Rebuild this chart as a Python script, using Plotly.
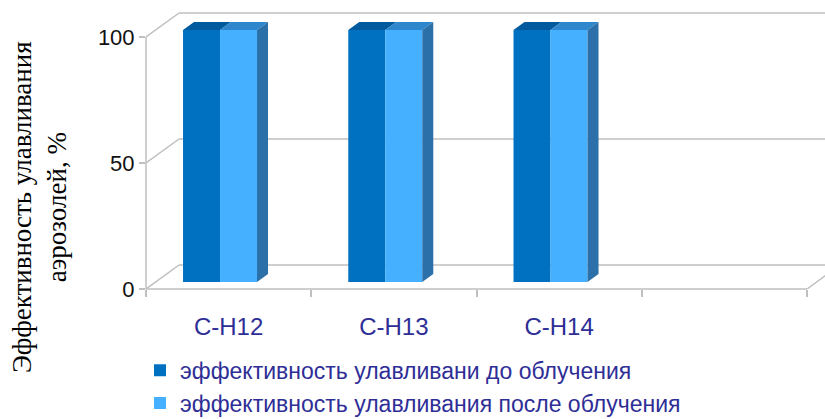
import plotly.graph_objects as go

# --- data ---------------------------------------------------------------
categories = ["C-H12", "C-H13", "C-H14"]
before_irradiation = [100, 100, 100]
after_irradiation = [100, 100, 100]
y_ticks = [0, 50, 100]
series_names = [
    "эффективность улавливани до облучения",
    "эффективность улавливания после облучения",
]

# --- geometry of the pseudo-3D box (pixels) ------------------------------
W, H = 825, 419
M_L, M_R, M_T, M_B = 146, 0, 6, 130
CAT_PX = 165.25          # width of one category slot on the front plane
UNIT_PX = 2.52           # pixels per percent on the front plane
N_SLOTS = 4              # three filled categories + one empty slot

plot_w = W - M_L - M_R
plot_h = H - M_T - M_B
x_max = plot_w / CAT_PX
y_max = plot_h / UNIT_PX

# depth offsets (pixels): back wall, bar front face, bar thickness
WALL_DX, WALL_DY = 33, 24
BAR_DX, BAR_DY = -8.6, 7
FACE_DX, FACE_DY = 11, 8

wdx, wdy = WALL_DX / CAT_PX, WALL_DY / UNIT_PX
fdx, fdy = FACE_DX / CAT_PX, FACE_DY / UNIT_PX
x2_min = -BAR_DX / CAT_PX
y2_min = -BAR_DY / UNIT_PX

GROUP_W = 74 / CAT_PX
BAR_W = GROUP_W / 2

DARK = "#0070C0"
LIGHT = "#45B0FF"
DARK_TOP = "#005A9E"
LIGHT_TOP = "#2E86CC"
SIDE = "#2B70A8"
GRID = "#BFBFBF"
LABEL_BLUE = "#2E2E96"

fig = go.Figure()

xc = [i + 0.5 for i in range(len(categories))]
fig.add_trace(go.Bar(x=xc, y=before_irradiation, name=series_names[0],
                     marker=dict(color=DARK, line=dict(width=0)),
                     xaxis="x2", yaxis="y2", hoverinfo="y"))
fig.add_trace(go.Bar(x=xc, y=after_irradiation, name=series_names[1],
                     marker=dict(color=LIGHT, line=dict(width=0)),
                     xaxis="x2", yaxis="y2", hoverinfo="y"))


def face(xs, ys, color):
    fig.add_trace(go.Scatter(x=xs, y=ys, mode="lines", fill="toself",
                             fillcolor=color, line=dict(width=0),
                             xaxis="x2", yaxis="y2", showlegend=False,
                             hoverinfo="skip"))


# top and side faces derived from the bar values
for i, c in enumerate(xc):
    left = c - GROUP_W / 2
    for j, (vals, col) in enumerate([(before_irradiation, DARK_TOP),
                                     (after_irradiation, LIGHT_TOP)]):
        v = vals[i]
        xl = left + j * BAR_W
        xr = xl + BAR_W
        face([xl, xr, xr + fdx, xl + fdx, xl], [v, v, v + fdy, v + fdy, v], col)
    v = after_irradiation[i]
    xr = left + GROUP_W
    face([xr, xr + fdx, xr + fdx, xr, xr], [0, fdy, v + fdy, v, 0], SIDE)

# wall, floor and axis lines of the box
shapes = []
line = dict(color=GRID, width=1.5)
for v in y_ticks:
    shapes.append(dict(type="line", xref="x", yref="y", x0=0, y0=v,
                       x1=wdx, y1=v + wdy, line=line, layer="below"))
    shapes.append(dict(type="line", xref="x", yref="y", x0=wdx, y0=v + wdy,
                       x1=x_max + 1, y1=v + wdy, line=line, layer="below"))
# front vertical edge (value axis) and front floor edge (category axis)
shapes.append(dict(type="line", xref="paper", yref="y", x0=0, y0=0,
                   x1=0, y1=max(y_ticks), line=line, layer="below"))
shapes.append(dict(type="line", xref="x", yref="paper", x0=0, y0=0,
                   x1=N_SLOTS, y1=0, line=line, layer="below"))
shapes.append(dict(type="line", xref="x", yref="y", x0=N_SLOTS, y0=0,
                   x1=N_SLOTS + wdx, y1=wdy, line=line, layer="below"))

fig.update_layout(
    width=W, height=H,
    margin=dict(l=M_L, r=M_R, t=M_T, b=M_B, autoexpand=False),
    paper_bgcolor="white", plot_bgcolor="rgba(0,0,0,0)",
    barmode="group", bargap=1 - GROUP_W, bargroupgap=0,
    shapes=shapes,
    xaxis=dict(range=[0, x_max], showgrid=False, zeroline=False, showline=False,
               tickvals=xc, ticktext=categories, ticks="",
               ticklabelstandoff=21,
               tickfont=dict(family="Liberation Sans", size=24, color=LABEL_BLUE),
               minor=dict(tickvals=list(range(N_SLOTS + 1)), ticks="outside",
                          ticklen=7, tickcolor=GRID, tickwidth=1.5)),
    yaxis=dict(range=[0, y_max], showgrid=False, zeroline=False,
               showline=False,
               tickvals=y_ticks, ticks="outside", ticklen=6, tickcolor=GRID,
               tickwidth=1.5,
               tickfont=dict(family="Liberation Sans", size=22, color="#111111")),
    xaxis2=dict(range=[x2_min, x2_min + x_max], overlaying="x", visible=False),
    yaxis2=dict(range=[y2_min, y2_min + y_max], overlaying="y", visible=False),
    legend=dict(orientation="v", x=(140 - M_L) / plot_w, xref="paper",
                y=-0.211, yanchor="top",
                font=dict(family="Liberation Sans", size=23, color=LABEL_BLUE),
                itemwidth=30, bgcolor="rgba(0,0,0,0)"),
    annotations=[dict(text="Эффективность улавливания<br>аэрозолей, %",
                      textangle=-90, xref="paper", yref="paper",
                      x=(40 - M_L) / plot_w, y=(H - M_B - 207) / plot_h,
                      xanchor="center", yanchor="middle", showarrow=False,
                      font=dict(family="Liberation Serif", size=27, color="black"))],
)

fig.write_html("out.html")
